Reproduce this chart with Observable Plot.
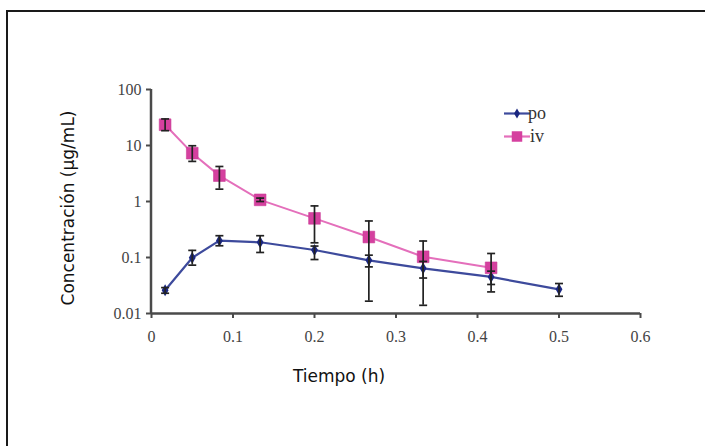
<!DOCTYPE html>
<html><head><meta charset="utf-8">
<script src="https://cdn.jsdelivr.net/npm/d3@7"></script>
<script src="https://cdn.jsdelivr.net/npm/@observablehq/plot@0.6"></script>
<style>
html,body{margin:0;padding:0;background:#fff;}
#wrap{position:relative;width:705px;height:446px;overflow:hidden;background:#fff;}
#frame{position:absolute;left:6px;top:10px;width:720px;height:460px;border-top:2px solid #1a1a1a;border-left:2px solid #1a1a1a;}
#chart{position:absolute;left:0;top:0;}
</style></head><body>
<div id="wrap"><div id="frame"></div><div id="chart"></div></div>
<script>
// ---- data ----
const times   = [0.0167, 0.05, 0.0833, 0.1333, 0.2, 0.2667, 0.3333, 0.4167, 0.5];
const poMean  = [0.026, 0.099, 0.20, 0.187, 0.136, 0.089, 0.064, 0.045, 0.027];
const poLow   = [0.023, 0.073, 0.162, 0.123, 0.092, 0.068, 0.043, 0.033, 0.0203];
const poHigh  = [0.029, 0.134, 0.245, 0.245, 0.16, 0.11, 0.085, 0.057, 0.0343];
const ivTimes = [0.0167, 0.05, 0.0833, 0.1333, 0.2, 0.2667, 0.3333, 0.4167];
const ivMean  = [23.5, 7.3, 2.9, 1.07, 0.50, 0.232, 0.103, 0.0654];
const ivLow   = [18.4, 5.2, 1.66, 1.0, 0.183, 0.0166, 0.014, 0.0243];
const ivHigh  = [29.8, 9.9, 4.22, 1.15, 0.834, 0.449, 0.197, 0.118];
const xTicks = [0, 0.1, 0.2, 0.3, 0.4, 0.5, 0.6];
const xTickLabels = ["0", "0.1", "0.2", "0.3", "0.4", "0.5", "0.6"];
const yTicks = [0.01, 0.1, 1, 10, 100];
const yTickLabels = ["0.01", "0.1", "1", "10", "100"];
const seriesNames = ["po", "iv"];
const xTitle = "Tiempo (h)";
const yTitle = "Concentración (µg/mL)";

const poRows = times.map((t, i) => ({t, v: poMean[i], lo: poLow[i], hi: poHigh[i]}));
const ivRows = ivTimes.map((t, i) => ({t, v: ivMean[i], lo: ivLow[i], hi: ivHigh[i]}));
const errRows = [...poRows, ...ivRows];

const PO_LINE = "#3d4a9c", PO_MARK = "#1b2780";
const IV_LINE = "#e46fbb", IV_MARK = "#d5409f";
const ERR = "#222";
const AX = "#4a4a4a";

const capSymbol = {draw(ctx, size) { const r = Math.sqrt(size / Math.PI); ctx.moveTo(-r, 0); ctx.lineTo(r, 0); }};

const serif = "Liberation Serif";
const sans = "DejaVu Sans";

const chart = Plot.plot({
  width: 705, height: 446,
  marginLeft: 151, marginRight: 65, marginTop: 89, marginBottom: 133,
  x: {domain: [0, 0.6]},
  y: {type: "log", domain: [0.01, 100]},
  style: {fontFamily: serif, fontSize: "16px", color: "#444", background: "transparent", overflow: "visible"},
  marks: [
    Plot.axisX({ticks: xTicks, tickFormat: d => xTickLabels[xTicks.indexOf(d)], tickSize: 5, tickPadding: 12, strokeWidth: 2, stroke: AX, fill: "#444", label: null}),
    Plot.axisY({ticks: yTicks, tickFormat: d => yTickLabels[yTicks.indexOf(d)], tickSize: 5, tickPadding: 5, strokeWidth: 2, stroke: AX, fill: "#444", label: null}),
    Plot.ruleX([0], {stroke: AX, strokeWidth: 2.5, dx: -0.5}),
    Plot.ruleY([0.01], {stroke: AX, strokeWidth: 2.5}),
    Plot.line(poRows, {x: "t", y: "v", stroke: PO_LINE, strokeWidth: 2.2}),
    Plot.line(ivRows, {x: "t", y: "v", stroke: IV_LINE, strokeWidth: 2}),
    Plot.dot(poRows, {x: "t", y: "v", symbol: "diamond", r: 3.6, fill: PO_MARK, stroke: "none"}),
    Plot.dot(ivRows, {x: "t", y: "v", symbol: "square", r: 6.6, fill: IV_MARK, stroke: "#c93a95", strokeWidth: 0.6}),
    Plot.ruleX(errRows, {x: "t", y1: "lo", y2: "hi", stroke: ERR, strokeWidth: 1.7}),
    Plot.dot(errRows, {x: "t", y: "lo", symbol: capSymbol, r: 4, fill: "none", stroke: ERR, strokeWidth: 1.7}),
    Plot.dot(errRows, {x: "t", y: "hi", symbol: capSymbol, r: 4, fill: "none", stroke: ERR, strokeWidth: 1.7}),
    Plot.text([xTitle], {frameAnchor: "bottom", dx: -57, dy: 68, fontFamily: sans, fontSize: 17, fill: "#111"})
  ]
});
document.getElementById("chart").appendChild(chart);

const svg = d3.select(chart);
// force tick label font
const tickSet = new Set([...xTickLabels, ...yTickLabels]);
svg.selectAll("text").each(function() {
  if (tickSet.has(this.textContent)) {
    this.style.fontFamily = "'Liberation Serif', serif";
    this.style.fontSize = "16px";
    this.style.fill = "#444";
  }
});

// y title
svg.append("text")
  .attr("transform", "translate(68,208) rotate(-90)")
  .attr("text-anchor", "middle").attr("dy", "0.35em")
  .style("font-family", "'DejaVu Sans', sans-serif").style("font-size", "17px").attr("fill", "#111")
  .text(yTitle);

// legend
const lg = svg.append("g");
const legendItems = [
  {name: seriesNames[0], line: PO_LINE, mark: PO_MARK, sym: d3.symbolDiamond, size: 30, y: 113.5},
  {name: seriesNames[1], line: IV_LINE, mark: IV_MARK, sym: d3.symbolSquare, size: 110, y: 136.5}
];
legendItems.forEach(it => {
  lg.append("line").attr("x1", 504).attr("x2", 530).attr("y1", it.y).attr("y2", it.y).attr("stroke", it.line).attr("stroke-width", 2.2);
  lg.append("path").attr("d", d3.symbol(it.sym, it.size)()).attr("transform", `translate(517,${it.y})`).attr("fill", it.mark);
  lg.append("text").attr("x", 537).attr("y", it.y).attr("dy", "0.3em").style("font-family", "'Liberation Serif', serif").style("font-size", "18px").attr("fill", "#333").text(it.name);
});
</script>
</body></html>
